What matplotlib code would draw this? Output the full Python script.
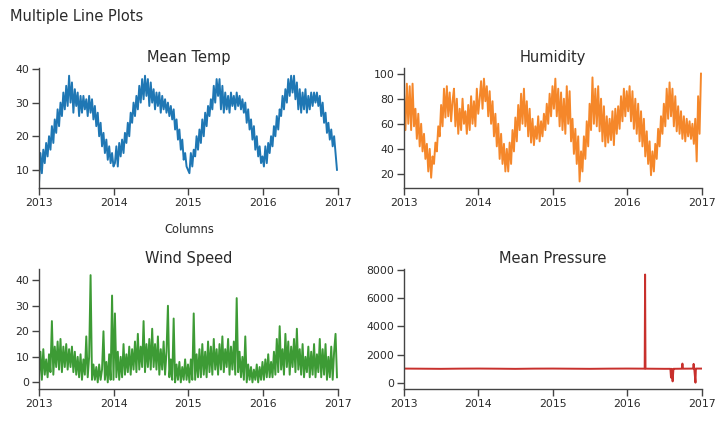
import matplotlib
matplotlib.use("Agg")
import matplotlib.pyplot as plt
import pandas as pd

# ---------------- data (weekly readings) ----------------
mean_temp = [
    # 2013
    6, 15, 9, 16, 12, 18, 14, 20, 16, 23, 18, 25, 21, 28, 23, 30, 26, 33, 28, 35,
    29, 38, 30, 36, 27, 34, 29, 33, 26, 32, 27, 32, 28, 31, 26, 32, 27, 31, 25, 29,
    23, 27, 20, 24, 17, 21, 15, 19, 13, 17, 12, 15, 11,
    # 2014
    12, 17, 11, 18, 14, 19, 15, 21, 18, 24, 20, 27, 24, 30, 26, 32, 28, 35, 30, 37,
    31, 38, 32, 37, 29, 36, 30, 34, 28, 33, 29, 33, 27, 32, 28, 31, 27, 30, 26, 29,
    25, 28, 22, 25, 19, 22, 16, 19, 13, 15, 11, 10,
    # 2015
    9, 15, 11, 16, 14, 20, 16, 22, 18, 25, 20, 27, 23, 29, 26, 31, 28, 35, 30, 37,
    32, 37, 28, 35, 27, 33, 28, 32, 27, 33, 29, 32, 28, 33, 29, 32, 28, 31, 27, 30,
    24, 28, 22, 25, 19, 23, 16, 20, 14, 17, 12, 14,
    # 2016
    11, 17, 12, 18, 15, 20, 17, 23, 20, 26, 22, 28, 26, 32, 28, 34, 30, 37, 32, 38,
    33, 38, 31, 36, 28, 34, 27, 33, 28, 34, 27, 32, 28, 33, 29, 33, 30, 33, 29, 32,
    26, 30, 24, 27, 21, 24, 19, 22, 17, 20, 15, 10,
]

humidity = [
    # 2013
    84, 55, 92, 60, 90, 55, 92, 58, 72, 48, 68, 42, 60, 38, 52, 32, 44, 22, 40, 17,
    34, 28, 45, 38, 58, 50, 75, 58, 88, 65, 90, 66, 85, 62, 78, 88, 58, 80, 52, 72,
    55, 80, 60, 70, 52, 75, 55, 82, 60, 78, 58, 88, 68,
    # 2014
    80, 94, 72, 96, 78, 90, 66, 86, 60, 78, 50, 68, 42, 60, 32, 52, 28, 44, 22, 40,
    22, 45, 28, 55, 38, 65, 46, 75, 55, 84, 60, 88, 58, 78, 50, 72, 45, 64, 43, 58,
    48, 66, 46, 62, 50, 68, 55, 76, 60, 84, 66, 90,
    # 2015
    72, 96, 66, 88, 58, 85, 55, 80, 52, 90, 60, 86, 46, 64, 36, 56, 28, 50, 14, 38,
    22, 50, 32, 62, 42, 76, 55, 97, 60, 88, 58, 90, 54, 80, 46, 74, 42, 66, 45, 64,
    47, 70, 43, 72, 52, 74, 56, 82, 62, 88, 66, 86,
    # 2016
    70, 90, 62, 86, 56, 80, 52, 76, 46, 70, 42, 64, 34, 54, 28, 46, 19, 38, 22, 44,
    32, 56, 42, 66, 52, 76, 58, 88, 64, 93, 66, 88, 58, 82, 54, 74, 52, 70, 48, 66,
    46, 64, 50, 62, 48, 60, 44, 64, 30, 82, 52, 100,
]

wind_speed = [
    # 2013
    2, 12, 1, 13, 3, 9, 2, 11, 4, 24, 3, 14, 6, 16, 5, 17, 4, 14, 6, 15,
    5, 13, 6, 14, 4, 12, 3, 10, 2, 11, 1, 9, 3, 18, 2, 10, 42, 1, 7, 1,
    6, 0, 7, 1, 5, 20, 1, 8, 0, 11, 1, 34, 1,
    # 2014
    27, 2, 12, 1, 10, 2, 15, 3, 11, 4, 14, 3, 13, 5, 16, 4, 19, 5, 14, 6,
    24, 4, 15, 6, 17, 5, 21, 6, 15, 5, 18, 3, 13, 5, 16, 3, 12, 30, 2, 9,
    1, 25, 0, 7, 1, 8, 0, 6, 1, 9, 1, 7,
    # 2015
    0, 9, 1, 27, 1, 11, 2, 13, 2, 15, 3, 12, 2, 16, 4, 14, 3, 17, 5, 13,
    3, 15, 5, 18, 4, 13, 6, 17, 3, 14, 5, 16, 3, 33, 4, 12, 2, 10, 1, 18,
    0, 7, 1, 6, 0, 5, 1, 7, 0, 6, 1, 8,
    # 2016
    1, 9, 2, 11, 2, 8, 2, 12, 3, 17, 4, 22, 5, 13, 3, 19, 6, 16, 3, 14,
    6, 17, 4, 21, 5, 13, 3, 15, 2, 10, 4, 14, 2, 12, 3, 15, 2, 11, 4, 17,
    2, 13, 3, 15, 1, 10, 2, 14, 1, 12, 19, 2,
]

pressure_dates = [
    "2013-01-01", "2013-04-01", "2013-07-01", "2013-10-01",
    "2014-01-01", "2014-04-01", "2014-07-01", "2014-10-01",
    "2015-01-01", "2015-04-01", "2015-07-01", "2015-10-01",
    "2016-01-01", "2016-03-26", "2016-03-28", "2016-03-30",
    "2016-07-01", "2016-07-30", "2016-08-02", "2016-08-05",
    "2016-08-10", "2016-08-14", "2016-08-18", "2016-09-24",
    "2016-09-27", "2016-09-30", "2016-11-18", "2016-11-21",
    "2016-11-24", "2016-11-30", "2016-12-02", "2016-12-05",
    "2017-01-01",
]
mean_pressure = [
    1016, 1008, 998, 1012,
    1018, 1009, 997, 1013,
    1017, 1008, 999, 1012,
    1018, 1011, 7679, 1010,
    999, 1000, 380, 1001,
    110, 1002, 1001, 1008,
    1370, 1009, 1014, 1352,
    1015, 20, 1016, 1017,
    1016,
]

titles = ["Mean Temp", "Humidity", "Wind Speed", "Mean Pressure"]
year_ticks = ["2013", "2014", "2015", "2016", "2017"]

weekly_dates = pd.date_range("2013-01-01", periods=len(mean_temp), freq="7D")

series = [
    (weekly_dates, mean_temp, "#1f77b4", [10, 20, 30, 40], (4.6, 40.3)),
    (weekly_dates, humidity, "#f5872a", [20, 40, 60, 80, 100], (8.8, 104.5)),
    (weekly_dates, wind_speed, "#3d9b35", [0, 10, 20, 30, 40], (-2.6, 44.4)),
    (pd.to_datetime(pressure_dates), mean_pressure, "#c8302c", [0, 2000, 4000, 6000, 8000], (-430, 8070)),
]

# ---------------- figure ----------------
plt.rcParams["font.family"] = ["DejaVu Sans"]
fig = plt.figure(figsize=(7.2, 4.21), dpi=100)

W, H = 720, 421
boxes = [
    (39, 68, 338, 188),
    (404, 68, 702, 188),
    (39, 269, 338, 389),
    (404, 269, 702, 389),
]

xticks = pd.to_datetime([y + "-01-01" for y in year_ticks])

for (x0, y0, x1, y1), (dates, vals, col, yt, yl), title in zip(boxes, series, titles):
    ax = fig.add_axes([x0 / W, 1 - y1 / H, (x1 - x0) / W, (y1 - y0) / H])
    ax.plot(dates, vals, color=col, lw=1.4)
    ax.set_xlim(xticks[0], xticks[-1])
    ax.set_ylim(*yl)
    ax.set_xticks(xticks)
    ax.set_xticklabels(year_ticks)
    ax.set_yticks(yt)
    for s in ("top", "right"):
        ax.spines[s].set_visible(False)
    for s in ("left", "bottom"):
        ax.spines[s].set_color("#444444")
        ax.spines[s].set_linewidth(1.0)
    ax.tick_params(axis="both", direction="out", length=5, width=1, color="#444444",
                   labelsize=7.8, labelcolor="#2a2a2a", pad=2)
    ax.set_title(title, fontsize=10.5, color="#2a2a2a", pad=4)

fig.text(10 / W, 1 - 16 / H, "Multiple Line Plots", fontsize=10.5, color="#2a2a2a",
         ha="left", va="center")
fig.text(189 / W, 1 - 229 / H, "Columns", fontsize=8.3, color="#2a2a2a",
         ha="center", va="center")

fig.savefig("out.png", dpi=100)
